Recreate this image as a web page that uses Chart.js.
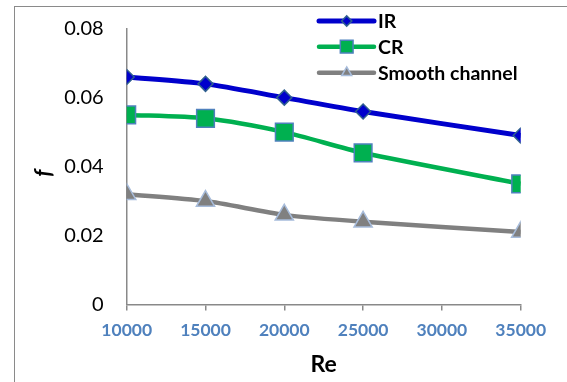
<!DOCTYPE html>
<html>
<head>
<meta charset="utf-8">
<script src="https://cdn.jsdelivr.net/npm/chart.js@4/dist/chart.umd.min.js"></script>
<style>
  html, body { margin: 0; padding: 0; background: #fff; }
  #wrap { position: relative; width: 567px; height: 382px; overflow: hidden; }
  #frame { position: absolute; left: 14px; top: 6px; width: 700px; height: 500px; border: 1.5px solid #8a8a8a; box-sizing: border-box; }
  canvas { position: absolute; left: 0; top: 0; }
</style>
</head>
<body>
<div id="wrap">
  <div id="frame"></div>
  <canvas id="c" width="567" height="382"></canvas>
</div>
<script>
const reynolds = [10000, 15000, 20000, 25000, 35000];
const irValues = [0.066, 0.064, 0.060, 0.056, 0.049];
const crValues = [0.055, 0.054, 0.050, 0.044, 0.035];
const smoothValues = [0.032, 0.030, 0.026, 0.024, 0.021];
const seriesNames = ['IR', 'CR', 'Smooth channel'];
const xTicks = [10000, 15000, 20000, 25000, 30000, 35000];
const yTicks = [0, 0.02, 0.04, 0.06, 0.08];
const xTitle = 'Re';
const yTitle = 'f';

const toPts = vals => reynolds.map((x, i) => ({x: x, y: vals[i]}));

const legendYs = [21, 46.7, 72.7];
const legendScale = [0.68, 0.72, 0.55];

function drawMarker(ctx, style, x, y, r, fill, stroke, bw) {
  ctx.save();
  ctx.fillStyle = fill; ctx.strokeStyle = stroke; ctx.lineWidth = bw;
  ctx.beginPath();
  if (style === 'rectRot') {
    ctx.moveTo(x - r, y); ctx.lineTo(x, y - r); ctx.lineTo(x + r, y); ctx.lineTo(x, y + r);
  } else if (style === 'rect') {
    const s = r * Math.SQRT1_2;
    ctx.rect(x - s, y - s, 2 * s, 2 * s);
  } else {
    const h = r * 0.866;
    ctx.moveTo(x, y - r); ctx.lineTo(x + h, y + r / 2); ctx.lineTo(x - h, y + r / 2);
  }
  ctx.closePath(); ctx.fill(); ctx.stroke();
  ctx.restore();
}

const extras = {
  id: 'extras',
  afterDraw(chart) {
    const ctx = chart.ctx;
    const area = chart.chartArea;
    ctx.save();
    ctx.fillStyle = '#000';
    ctx.textAlign = 'center';
    ctx.textBaseline = 'middle';
    ctx.font = 'bold 23px Lato';
    ctx.fillText(xTitle, (area.left + area.right) / 2, 365);
    ctx.save();
    ctx.translate(44, 173);
    ctx.rotate(-Math.PI / 2);
    ctx.font = 'italic bold 22px Lato';
    ctx.fillText(yTitle, 0, 0);
    ctx.restore();
    // legend
    chart.data.datasets.forEach((ds, i) => {
      const y = legendYs[i];
      ctx.save();
      ctx.strokeStyle = ds.borderColor;
      ctx.lineWidth = ds.borderWidth;
      ctx.lineCap = 'round';
      ctx.beginPath(); ctx.moveTo(319, y); ctx.lineTo(374, y); ctx.stroke();
      ctx.restore();
      drawMarker(ctx, ds.pointStyle, 346.7, y, ds.pointRadius * legendScale[i], ds.pointBackgroundColor, ds.pointBorderColor, ds.pointBorderWidth);
      ctx.fillStyle = '#000';
      ctx.textAlign = 'left';
      ctx.font = 'bold 19.5px Lato';
      ctx.fillText(ds.label, 378, y + 1);
    });
    ctx.restore();
  }
};

new Chart(document.getElementById('c'), {
  type: 'line',
  data: {
    datasets: [
      { label: seriesNames[0], data: toPts(irValues), borderColor: '#0000cc', borderWidth: 5,
        pointStyle: 'rectRot', pointRadius: 7.5, pointBackgroundColor: '#0000cc', pointBorderColor: '#2f5f8f', pointBorderWidth: 1.5, tension: 0.25 },
      { label: seriesNames[1], data: toPts(crValues), borderColor: '#00b050', borderWidth: 4.5,
        pointStyle: 'rect', pointRadius: 12.5, pointBackgroundColor: '#00b050', pointBorderColor: '#4f81bd', pointBorderWidth: 1.5, tension: 0.25 },
      { label: seriesNames[2], data: toPts(smoothValues), borderColor: '#808080', borderWidth: 4.5,
        pointStyle: 'triangle', pointRadius: 10.5, pointBackgroundColor: '#808080', pointBorderColor: '#a7bcdb', pointBorderWidth: 1.5, tension: 0.25 }
    ]
  },
  options: {
    responsive: false,
    animation: false,
    events: [],
    layout: { padding: { left: 0, right: 46.3, top: 28.7, bottom: 0 } },
    plugins: { legend: { display: false }, tooltip: { enabled: false } },
    scales: {
      x: {
        type: 'linear', min: 10000, max: 35000,
        afterFit(s) { s.height = 77.5; },
        afterBuildTicks(s) { s.ticks = xTicks.map(v => ({value: v})); },
        ticks: { color: '#4f81bd', font: { family: 'Lato', size: 17.5, weight: 'bold' }, padding: 9, maxRotation: 0, autoSkip: false,
          callback: v => String(v) },
        grid: { drawOnChartArea: false, drawTicks: true, tickLength: 6, color: '#898989', lineWidth: 1.5 },
        border: { color: '#898989', width: 1.5 }
      },
      y: {
        min: 0, max: 0.08,
        afterFit(s) { s.width = 126.7; },
        afterBuildTicks(s) { s.ticks = yTicks.map(v => ({value: v})); },
        ticks: { color: '#000', font: { family: 'Lato', size: 20 }, padding: 0,
          callback: v => v === 0 ? '0' : v.toFixed(2) },
        grid: { drawOnChartArea: false, drawTicks: true, tickLength: 23, tickColor: 'rgba(0,0,0,0)' },
        border: { color: '#898989', width: 1.5 }
      }
    }
  },
  plugins: [extras]
});
</script>
</body>
</html>
